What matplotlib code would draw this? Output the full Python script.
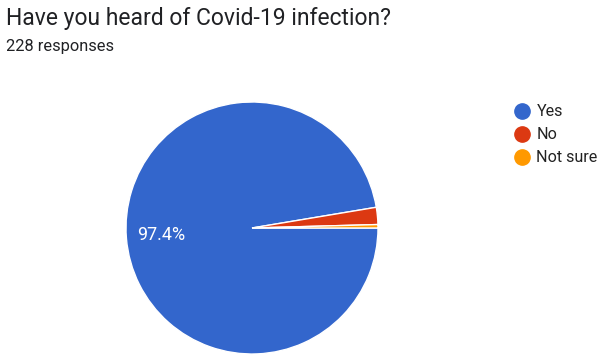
import matplotlib
matplotlib.use('Agg')
import matplotlib.pyplot as plt
from matplotlib.lines import Line2D

plt.rcParams['font.family'] = ['Roboto', 'DejaVu Sans']

# survey data (228 responses)
labels = ['Yes', 'No', 'Not sure']
counts = [222, 5, 1]
colors = ['#3366CC', '#DC3912', '#FF9900']

title = 'Have you heard of Covid-19 infection?'
subtitle = '228 responses'

W, H = 604, 355
fig = plt.figure(figsize=(W / 100, H / 100), dpi=100)

# pie centred at (252, 228) px with radius 126 px
cx, cy, r = 252, 228, 126
ax = fig.add_axes([(cx - r) / W, (H - cy - r) / H, 2 * r / W, 2 * r / H])


def pct(p):
    return f'{p:.1f}%' if p > 5 else ''


wedges, texts, autotexts = ax.pie(
    counts, colors=colors, startangle=0, counterclock=False,
    autopct=pct, pctdistance=0.72,
    wedgeprops=dict(edgecolor='white', linewidth=1),
    textprops=dict(color='white', fontsize=13),
)
ax.set_xlim(-1, 1)
ax.set_ylim(-1, 1)
ax.set_aspect('equal')

fig.text(6 / W, 1 - 18 / H, title, fontsize=16.5, color='#202124', va='center', ha='left')
fig.text(6 / W, 1 - 47 / H, subtitle, fontsize=11.8, color='#202124', va='center', ha='left')

handles = [Line2D([], [], marker='o', linestyle='', markersize=11,
                  markerfacecolor=c, markeredgecolor=c) for c in colors]
fig.legend(handles, labels, loc='upper left', bbox_to_anchor=(501 / W, 1 - 93 / H),
           frameon=False, fontsize=11.6, labelcolor='#222222', handletextpad=0.3,
           labelspacing=0.5, handlelength=1.2, borderpad=0.2)

fig.savefig('out.png', dpi=100, facecolor='white')
